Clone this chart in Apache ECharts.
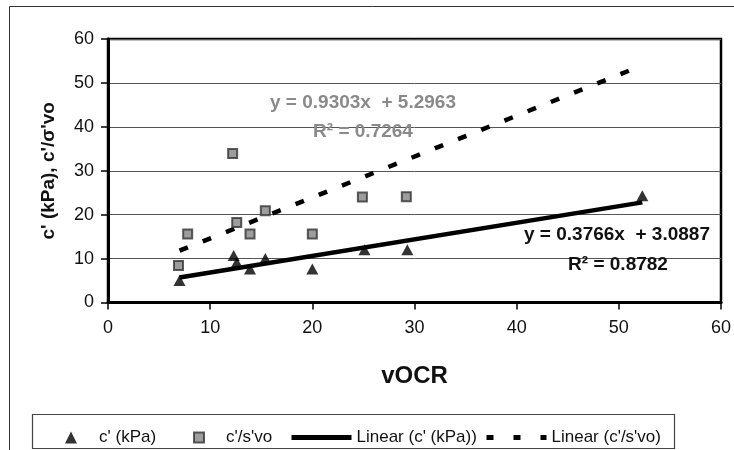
<!DOCTYPE html>
<html>
<head>
<meta charset="utf-8">
<script src="https://cdn.jsdelivr.net/npm/echarts@6/dist/echarts.min.js"></script>
<style>html,body{margin:0;padding:0;background:#fff;}#c{width:734px;height:450px;}</style>
</head>
<body>
<div id="c"></div>
<script>
// ---- data ----
const cKpaX = [7.0, 12.3, 12.6, 13.9, 15.4, 20.0, 25.1, 29.3, 52.3];
const cKpaY = [5.0, 10.7, 9.1, 7.6, 10.0, 7.6, 12.0, 12.0, 24.3];
const ratioX = [6.9, 7.8, 12.2, 12.6, 13.9, 15.4, 20.0, 24.9, 29.2];
const ratioY = [8.4, 15.6, 33.9, 18.2, 15.6, 20.9, 15.6, 24.0, 24.1];
const trendCKpaX = [7.0, 52.3];
const trendCKpaY = [5.7, 22.8];
const trendRatioX = [7.0, 52.3];
const trendRatioY = [11.8, 54.0];
const xTicks = [0, 10, 20, 30, 40, 50, 60];
const yTicks = [0, 10, 20, 30, 40, 50, 60];
const seriesNames = ["c' (kPa)", "c'/s'vo", "Linear (c' (kPa))", "Linear (c'/s'vo)"];
const eqRatio = ["y = 0.9303x  + 5.2963", "R² = 0.7264"];
const eqCKpa = ["y = 0.3766x  + 3.0887", "R² = 0.8782"];

const pairs = (xs, ys) => xs.map((x, i) => [x, ys[i]]);
const FONT = 'Liberation Sans, Arial, sans-serif';

const chart = echarts.init(document.getElementById('c'), null, {renderer: 'canvas'});
const legendText = {fontFamily: FONT, fontSize: 17, color: '#111'};
chart.setOption({
  animation: false,
  grid: {left: 108, right: 13, top: 39, bottom: 147.5, show: true, borderColor: '#000', borderWidth: 2.5, backgroundColor: 'transparent'},
  xAxis: {
    type: 'value', min: xTicks[0], max: xTicks[xTicks.length - 1], interval: 10,
    name: 'vOCR', nameLocation: 'middle', nameGap: 62,
    nameTextStyle: {fontFamily: FONT, fontSize: 24, fontWeight: 'bold', color: '#111'},
    axisLine: {show: true, onZero: false, lineStyle: {color: '#000', width: 3}},
    axisTick: {show: true, length: 7, lineStyle: {color: '#000', width: 1.5}},
    axisLabel: {fontFamily: FONT, fontSize: 18, color: '#111', margin: 17},
    splitLine: {show: false}
  },
  yAxis: {
    type: 'value', min: yTicks[0], max: yTicks[yTicks.length - 1], interval: 10,
    name: "c' (kPa), c'/σ'vo", nameLocation: 'middle', nameGap: 50,
    nameTextStyle: {fontFamily: FONT, fontSize: 19, fontWeight: 'bold', color: '#111'},
    axisLine: {show: true, onZero: false, lineStyle: {color: '#000', width: 3}},
    axisTick: {show: true, length: 7, lineStyle: {color: '#000', width: 1.5}},
    axisLabel: {fontFamily: FONT, fontSize: 18, color: '#111', margin: 14},
    splitLine: {show: true, lineStyle: {color: '#555', width: 1}}
  },
  legend: [
    {data: [{name: seriesNames[0], icon: 'triangle'}], left: 60, top: 424, itemWidth: 12, itemHeight: 12,
     textStyle: Object.assign({padding: [0, 0, 0, 17]}, legendText)},
    {data: [{name: seriesNames[1], icon: 'rect'}], left: 188, top: 424, itemWidth: 10, itemHeight: 10,
     textStyle: Object.assign({padding: [0, 0, 0, 17]}, legendText)},
    {data: [seriesNames[2]], left: 284, top: 424, itemWidth: 60, itemHeight: 12, itemStyle: {opacity: 0},
     lineStyle: {width: 5}, textStyle: legendText},
    {data: [seriesNames[3]], left: 479, top: 424, itemWidth: 60, itemHeight: 12, itemStyle: {opacity: 0},
     lineStyle: {width: 5, type: [7, 20]}, textStyle: legendText}
  ],
  series: [
    {name: seriesNames[2], type: 'line', data: pairs(trendCKpaX, trendCKpaY), showSymbol: false, symbol: 'none',
     lineStyle: {color: '#000', width: 4.5}, itemStyle: {color: '#000'}, z: 3, silent: true},
    {name: seriesNames[3], type: 'line', data: pairs(trendRatioX, trendRatioY), showSymbol: false, symbol: 'none',
     lineStyle: {color: '#000', width: 4.5, type: [9, 16]}, itemStyle: {color: '#000'}, z: 3, silent: true},
    {name: seriesNames[0], type: 'scatter', data: pairs(cKpaX, cKpaY), symbol: 'triangle', symbolSize: [12, 11],
     itemStyle: {color: '#000'}, z: 4},
    {name: seriesNames[1], type: 'scatter', data: pairs(ratioX, ratioY), symbol: 'rect', symbolSize: 9,
     itemStyle: {color: '#858585', borderColor: '#333', borderWidth: 2}, z: 4}
  ],
  graphic: [
    {type: 'rect', shape: {x: 9.5, y: 6.5, width: 800, height: 500}, style: {fill: 'none', stroke: '#333', lineWidth: 1}, z: 0, silent: true},
    {type: 'rect', shape: {x: 32.5, y: 414.5, width: 642, height: 34}, style: {fill: 'none', stroke: '#444', lineWidth: 1.2}, z: 0, silent: true},
    {type: 'text', x: 363, y: 103, style: {text: eqRatio[0], fill: '#8a8a8a', font: 'bold 19px ' + FONT, textAlign: 'center', textVerticalAlign: 'middle'}, z: 10},
    {type: 'text', x: 363, y: 132, style: {text: eqRatio[1], fill: '#8a8a8a', font: 'bold 19px ' + FONT, textAlign: 'center', textVerticalAlign: 'middle'}, z: 10},
    {type: 'text', x: 617, y: 235, style: {text: eqCKpa[0], fill: '#111', font: 'bold 19px ' + FONT, textAlign: 'center', textVerticalAlign: 'middle'}, z: 10},
    {type: 'text', x: 618, y: 265, style: {text: eqCKpa[1], fill: '#111', font: 'bold 19px ' + FONT, textAlign: 'center', textVerticalAlign: 'middle'}, z: 10}
  ]
});
</script>
</body>
</html>
